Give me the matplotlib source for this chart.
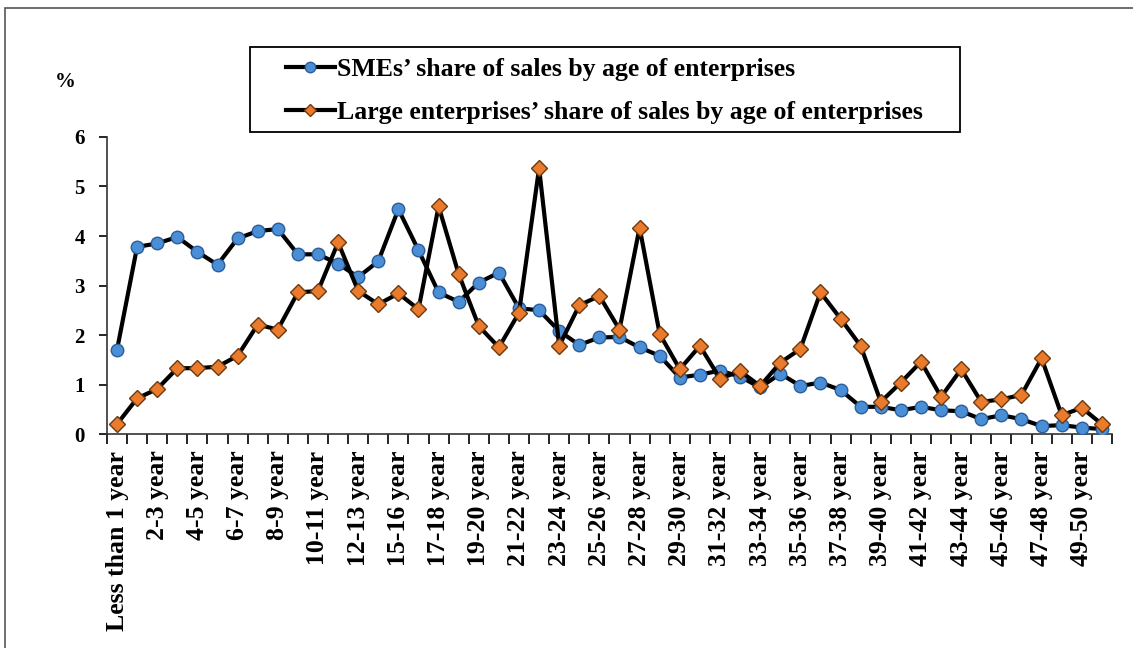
import matplotlib.pyplot as plt
from matplotlib.patches import Rectangle
from matplotlib.lines import Line2D

plt.rcParams['font.family'] = ['Liberation Serif', 'DejaVu Serif']
plt.rcParams['font.weight'] = 'bold'

# Age groups (every second label is shown on the axis)
ages = (['Less than 1 year'] + [f'{i}-{i + 1} year' for i in range(1, 13)]
        + ['13-15 year'] + [f'{i}-{i + 1} year' for i in range(15, 50)] + ['50+ year'])

sme_share = [1.70, 3.78, 3.85, 3.98, 3.68, 3.42, 3.95, 4.10, 4.14, 3.63,
             3.63, 3.44, 3.17, 3.49, 4.54, 3.71, 2.86, 2.67, 3.06, 3.26,
             2.54, 2.50, 2.08, 1.80, 1.95, 1.96, 1.75, 1.58, 1.14, 1.20,
             1.28, 1.16, 0.94, 1.22, 0.97, 1.04, 0.89, 0.55, 0.55, 0.48,
             0.55, 0.48, 0.46, 0.30, 0.38, 0.30, 0.16, 0.18, 0.13, 0.10]

large_share = [0.20, 0.72, 0.91, 1.33, 1.33, 1.36, 1.58, 2.21, 2.11, 2.86,
               2.89, 3.87, 2.89, 2.62, 2.84, 2.52, 4.60, 3.23, 2.18, 1.75,
               2.45, 5.37, 1.78, 2.60, 2.79, 2.11, 4.17, 2.02, 1.31, 1.78,
               1.12, 1.27, 0.97, 1.44, 1.72, 2.86, 2.33, 1.78, 0.65, 1.04,
               1.46, 0.75, 1.31, 0.65, 0.70, 0.79, 1.53, 0.38, 0.53, 0.20]

yticks = [0, 1, 2, 3, 4, 5, 6]

fig = plt.figure(figsize=(11.33, 6.48), dpi=100)
ax = fig.add_axes([0.0944, 0.3302, 0.887, 0.4584])

x = list(range(len(ages)))
ax.plot(x, sme_share, color='black', lw=3.0, marker='o', ms=9,
        mfc='#4A8FD6', mec='#2A5D9A', mew=1.0, zorder=3)
ax.plot(x, large_share, color='black', lw=3.0, marker='D', ms=8.5,
        mfc='#EA7A2C', mec='#6B3A10', mew=1.0, zorder=4)

ax.set_xlim(-0.5, len(ages) - 0.5)
ax.set_ylim(0, 6)
ax.set_yticks(yticks)
ax.set_yticklabels([str(v) for v in yticks], fontsize=15, fontweight='bold')

# labels on every second category, tick marks between categories
ax.set_xticks(x[::2])
ax.set_xticklabels(ages[::2], rotation=90, fontsize=18.5, fontweight='bold')
ax.tick_params(axis='x', which='major', length=0, pad=12)
ax.set_xticks([i - 0.5 for i in range(len(ages) + 1)], minor=True)
ax.tick_params(axis='x', which='minor', length=7, width=1.2, direction='out')
ax.tick_params(axis='y', length=6, width=1.2, direction='out', pad=10)

for s in ['top', 'right']:
    ax.spines[s].set_visible(False)
for s in ['left', 'bottom']:
    ax.spines[s].set_linewidth(1.2)
    ax.spines[s].set_color('#333333')

fig.text(65 / 1133, 1 - 82 / 648, '%', fontsize=15, fontweight='bold',
         ha='center', va='center')

handles = [
    Line2D([], [], color='black', lw=3.0, marker='o', ms=7.5,
           mfc='#4A8FD6', mec='#2A5D9A'),
    Line2D([], [], color='black', lw=3.0, marker='D', ms=6.5,
           mfc='#EA7A2C', mec='#6B3A10'),
]
leg = fig.legend(handles,
                 ['SMEs\u2019 share of sales by age of enterprises',
                  'Large enterprises\u2019 share of sales by age of enterprises'],
                 loc='center left', bbox_to_anchor=(286 / 1133, 1 - 91 / 648),
                 fontsize=18.5, frameon=False,
                 handlelength=1.9, labelspacing=0.75, borderpad=0,
                 handletextpad=0.1, borderaxespad=0)

# legend box
fig.patches.append(Rectangle((250 / 1133, 1 - 132 / 648), 710 / 1133, 85 / 648,
                             transform=fig.transFigure, fill=False,
                             edgecolor='black', lw=1.3))

# outer frame of the figure
fig.patches.append(Rectangle((5 / 1133, -0.05), 1.2, 1 - 8 / 648 + 0.05,
                             transform=fig.transFigure, fill=False,
                             edgecolor='#555555', lw=1.2))

fig.savefig('out.png', dpi=100)
